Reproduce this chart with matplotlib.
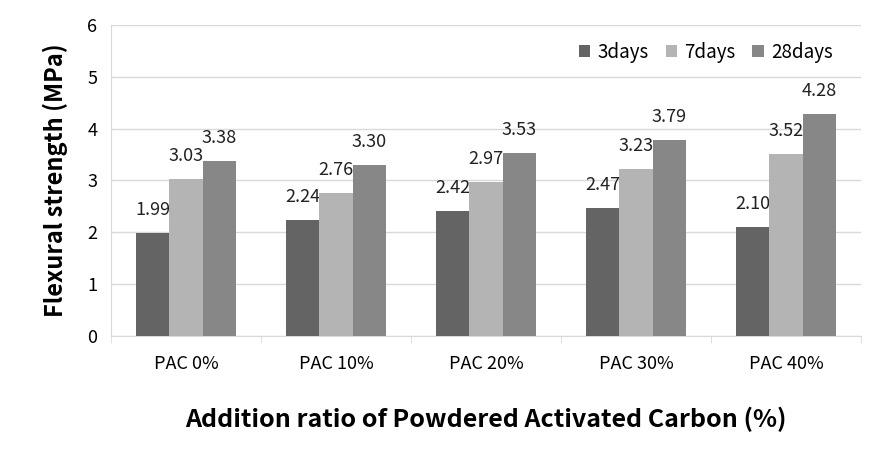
import numpy as np
from matplotlib import pyplot as plt
from matplotlib.ticker import FixedLocator

plt.rcParams['font.family'] = ['Noto Sans CJK KR', 'DejaVu Sans']

categories = ["PAC 0%", "PAC 10%", "PAC 20%", "PAC 30%", "PAC 40%"]
series = ["3days", "7days", "28days"]
days3 = [1.99, 2.24, 2.42, 2.47, 2.10]
days7 = [3.03, 2.76, 2.97, 3.23, 3.52]
days28 = [3.38, 3.30, 3.53, 3.79, 4.28]
colors = ["#646464", "#b4b4b4", "#878787"]

fig = plt.figure(figsize=(8.84, 4.58), dpi=100)
ax = fig.add_axes([0.1256, 0.2664, 0.8484, 0.679])

x = np.arange(len(categories))
w = 0.222
for i, (vals, name) in enumerate(zip([days3, days7, days28], series)):
    pos = x + (i - 1) * w
    ax.bar(pos, vals, width=w, color=colors[i], label=name, zorder=3)
    for p, v in zip(pos, vals):
        ax.annotate("%.2f" % v, (p, v), xytext=(0, 10), textcoords="offset points",
                    ha="center", va="bottom", fontsize=13, color="#222222")

ax.set_xlim(-0.5, len(categories) - 0.5)
ax.set_ylim(0, 6)
ax.set_yticks(range(7))
ax.yaxis.grid(True, color="#d9d9d9", lw=1, zorder=0)
ax.set_xticks(x)
ax.set_xticklabels(categories, fontsize=13)
ax.xaxis.set_minor_locator(FixedLocator(np.arange(-0.5, len(categories), 1)))
ax.tick_params(axis="x", which="major", length=0, pad=14)
ax.tick_params(axis="x", which="minor", length=5, color="#d9d9d9")
ax.tick_params(axis="y", length=0, labelsize=13, pad=10)

for s in ["top", "right"]:
    ax.spines[s].set_visible(False)
for s in ["left", "bottom"]:
    ax.spines[s].set_color("#d9d9d9")

ax.set_ylabel("Flexural strength (MPa)", fontsize=17, fontweight="bold", labelpad=14)
ax.set_xlabel("Addition ratio of Powdered Activated Carbon (%)", fontsize=18,
              fontweight="bold", labelpad=24)

ax.legend(loc="upper right", ncol=3, frameon=False, fontsize=13.5, handlelength=0.6,
          handleheight=0.6, handletextpad=0.4, columnspacing=0.9,
          bbox_to_anchor=(0.985, 1.0))

fig.savefig("out.png", dpi=100)
